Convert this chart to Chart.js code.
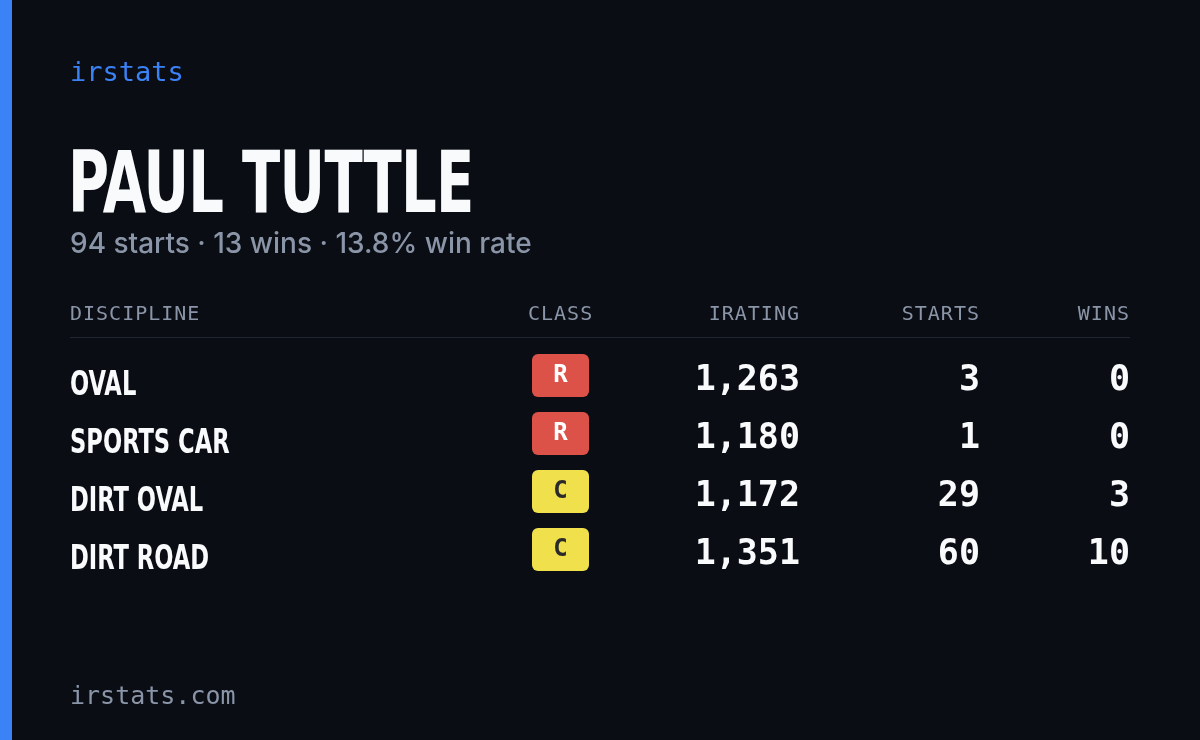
<!DOCTYPE html>
<html>
<head>
<meta charset="utf-8">
<script src="https://cdn.jsdelivr.net/npm/chart.js@4"></script>
<style>
  html, body { margin: 0; padding: 0; background: #0a0d14; }
  #card { position: relative; width: 1200px; height: 740px; background: #0a0d14; overflow: hidden; }
  #accent { position: absolute; left: 0; top: 0; width: 12px; height: 740px; background: #3b82f6; }
  .t { position: absolute; white-space: nowrap; }
  #brand { left: 70px; top: 56px; font: 500 27px "DejaVu Sans Mono", monospace; color: #3b82f6; }
  #name { left: 68px; top: 132px; font: bold 86px "DejaVu Sans Condensed", sans-serif; color: #f8fafc; letter-spacing: -1px; transform: scaleX(0.725); transform-origin: left; }
  #sub { left: 70px; top: 226px; font: 500 28px Inter, sans-serif; color: #8b95a8; letter-spacing: 0; }
  #foot { left: 70px; top: 681px; font: 500 25px "DejaVu Sans Mono", monospace; color: #8b95a8; }
  .h { top: 301px; font: 500 20px "DejaVu Sans Mono", monospace; color: #8b95a8; letter-spacing: 1px; }
  #rule { position: absolute; left: 70px; top: 337px; width: 1060px; height: 1px; background: #1f2532; }
  canvas { position: absolute; left: 0; top: 0; }
</style>
</head>
<body>
<div id="card">
  <canvas id="tbl" width="1200" height="740"></canvas>
  <div id="accent"></div>
  <div class="t" id="brand">irstats</div>
  <div class="t" id="name">PAUL TUTTLE</div>
  <div class="t" id="sub">94 starts · 13 wins · 13.8% win rate</div>
  <div class="t h" style="left:70px">DISCIPLINE</div>
  <div class="t h" style="left:528px">CLASS</div>
  <div class="t h" style="right:400px">IRATING</div>
  <div class="t h" style="right:220px">STARTS</div>
  <div class="t h" style="right:70px">WINS</div>
  <div id="rule"></div>
  <div class="t" id="foot">irstats.com</div>
</div>
<script>
// Datos de la tabla
const disciplines = ['OVAL', 'SPORTS CAR', 'DIRT OVAL', 'DIRT ROAD'];
const classes = ['R', 'R', 'C', 'C'];
const iratings = [1263, 1180, 1172, 1351];
const starts = [3, 1, 29, 60];
const wins = [0, 0, 3, 10];

const classColors = { R: '#dc5148', C: '#efe04c' };
const classText = { R: '#ffffff', C: '#2a2a2a' };

function roundRect(ctx, x, y, w, h, r) {
    ctx.beginPath();
    ctx.moveTo(x + r, y);
    ctx.arcTo(x + w, y, x + w, y + h, r);
    ctx.arcTo(x + w, y + h, x, y + h, r);
    ctx.arcTo(x, y + h, x, y, r);
    ctx.arcTo(x, y, x + w, y, r);
    ctx.closePath();
}

// Dibuja las celdas usando la escala Y de Chart.js
const tablePlugin = {
    id: 'tableCells',
    afterDatasetsDraw(chart) {
        const ctx = chart.ctx;
        const yScale = chart.scales.y;
        ctx.save();
        disciplines.forEach((d, i) => {
            const y = yScale.getPixelForValue(i);
            ctx.textBaseline = 'middle';

            ctx.save();
            ctx.translate(70, y + 8);
            ctx.scale(0.74, 1);
            ctx.fillStyle = '#f8fafc';
            ctx.textAlign = 'left';
            ctx.font = 'bold 34px "DejaVu Sans Condensed", sans-serif';
            ctx.fillText(d, 0, 0);
            ctx.restore();

            const c = classes[i];
            ctx.fillStyle = classColors[c];
            roundRect(ctx, 532, y - 24, 57, 43, 6);
            ctx.fill();
            ctx.fillStyle = classText[c];
            ctx.textAlign = 'center';
            ctx.font = 'bold 24px "DejaVu Sans Mono", monospace';
            ctx.fillText(c, 560.5, y - 2);

            ctx.fillStyle = '#f8fafc';
            ctx.textAlign = 'right';
            ctx.font = 'bold 35px "DejaVu Sans Mono", monospace';
            ctx.fillText(iratings[i].toLocaleString('en-US'), 800, y + 3);
            ctx.fillText(String(starts[i]), 980, y + 3);
            ctx.fillText(String(wins[i]), 1130, y + 3);
        });
        ctx.restore();
    }
};

new Chart(document.getElementById('tbl').getContext('2d'), {
    type: 'bar',
    data: {
        labels: disciplines,
        datasets: [{ data: iratings, backgroundColor: 'rgba(0,0,0,0)', borderWidth: 0 }]
    },
    options: {
        indexAxis: 'y',
        responsive: false,
        animation: false,
        events: [],
        layout: { padding: { top: 349, bottom: 159, left: 0, right: 0 } },
        plugins: { legend: { display: false }, tooltip: { enabled: false } },
        scales: {
            x: { display: false, min: 0, max: 2000 },
            y: { display: false, offset: true }
        }
    },
    plugins: [tablePlugin]
});
</script>
</body>
</html>
